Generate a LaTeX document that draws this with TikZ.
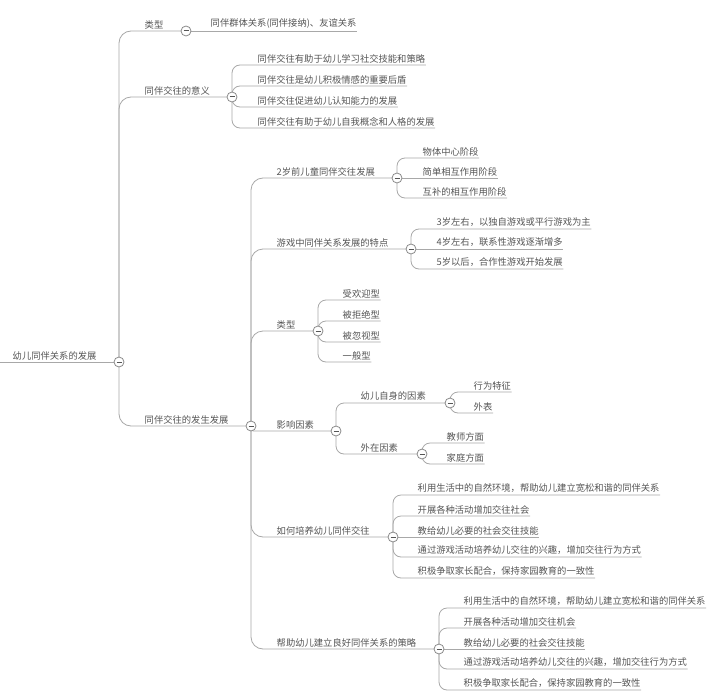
\documentclass[tikz,border=0pt]{standalone}
\usepackage{fontspec}
\newfontfamily\cjk{Noto Sans CJK SC}
\usetikzlibrary{backgrounds}
\definecolor{txtc}{HTML}{555555}
\definecolor{linec}{HTML}{A8A8A8}
\definecolor{togc}{HTML}{8A8A8A}
\tikzset{
  tx/.style={anchor=south west, inner xsep=0.5pt, inner ysep=2pt, text=txtc,
    font=\cjk\fontsize{9.3}{11}\selectfont},
  tog/.style={circle, draw=togc, fill=white, line width=0.8pt, minimum size=10pt, inner sep=0pt,
    path picture={\draw[txtc, line width=1pt] ([xshift=-2.5pt]path picture bounding box.center) -- ([xshift=2.5pt]path picture bounding box.center);}},
  edge/.style={draw=linec, line width=0.8pt, rounded corners=8pt},
  bigedge/.style={edge, rounded corners=12pt},
  tinyedge/.style={edge, rounded corners=2.5pt}
}
\begin{document}
\begin{tikzpicture}[x=1pt,y=-1pt]
\useasboundingbox (0,0) rectangle (722,698);
% root
\coordinate (rs) at (0,362);
\node[tx] (root) at (12,362) {幼儿同伴关系的发展};
\node[tog] (R) at (119,362) {};
% level 1
\node[tx] (A) at (144,31) {类型};
\node[tog] (cA) at (186,31) {};
\node[tx] (a1) at (210,31) {同伴群体关系(同伴接纳)、友谊关系};
\node[tx] (B) at (144,97) {同伴交往的意义};
\node[tog] (cB) at (232,97) {};
\node[tx] (b1) at (257,65) {同伴交往有助于幼儿学习社交技能和策略};
\node[tx] (b2) at (257,86) {同伴交往是幼儿积极情感的重要后盾};
\node[tx] (b3) at (257,107) {同伴交往促进幼儿认知能力的发展};
\node[tx] (b4) at (257,128) {同伴交往有助于幼儿自我概念和人格的发展};
\node[tx] (C) at (144,426) {同伴交往的发生发展};
\node[tog] (cC) at (251,426) {};
% level 2
\node[tx] (C1) at (276,178) {2岁前儿童同伴交往发展};
\node[tog] (cC1) at (397,178) {};
\node[tx] (c11) at (422,158) {物体中心阶段};
\node[tx] (c12) at (422,178) {简单相互作用阶段};
\node[tx] (c13) at (422,198) {互补的相互作用阶段};
\node[tx] (C2) at (276,249) {游戏中同伴关系发展的特点};
\node[tog] (cC2) at (411,249) {};
\node[tx] (c21) at (436,229) {3岁左右，以独自游戏或平行游戏为主};
\node[tx] (c22) at (436,249) {4岁左右，联系性游戏逐渐增多};
\node[tx] (c23) at (436,269) {5岁以后，合作性游戏开始发展};
\node[tx] (C3) at (276,331) {类型};
\node[tog] (cC3) at (318,331) {};
\node[tx] (c31) at (342,300) {受欢迎型};
\node[tx] (c32) at (342,321) {被拒绝型};
\node[tx] (c33) at (342,342) {被忽视型};
\node[tx] (c34) at (342,362) {一般型};
\node[tx] (C4) at (276,431) {影响因素};
\node[tog] (cC4) at (336,431) {};
\node[tx] (C41) at (360,403) {幼儿自身的因素};
\node[tog] (cC41) at (450,403) {};
\node[tx] (c411) at (473,392) {行为特征};
\node[tx] (c412) at (473,413) {外表};
\node[tx] (C42) at (360,454) {外在因素};
\node[tog] (cC42) at (422,454) {};
\node[tx] (c421) at (446,443) {教师方面};
\node[tx] (c422) at (446,464) {家庭方面};
\node[tx] (C5) at (276,537) {如何培养幼儿同伴交往};
\node[tog] (cC5) at (393,537) {};
\node[tx] (c51) at (417,495) {利用生活中的自然环境，帮助幼儿建立宽松和谐的同伴关系};
\node[tx] (c52) at (417,516) {开展各种活动增加交往社会};
\node[tx] (c53) at (417,537) {教给幼儿必要的社会交往技能};
\node[tx] (c54) at (417,557) {通过游戏活动培养幼儿交往的兴趣，增加交往行为方式};
\node[tx] (c55) at (417,578) {积极争取家长配合，保持家园教育的一致性};
\node[tx] (C6) at (276,649) {帮助幼儿建立良好同伴关系的策略};
\node[tog] (cC6) at (439,649) {};
\node[tx] (c61) at (463,608) {利用生活中的自然环境，帮助幼儿建立宽松和谐的同伴关系};
\node[tx] (c62) at (463,628) {开展各种活动增加交往机会};
\node[tx] (c63) at (463,649) {教给幼儿必要的社会交往技能};
\node[tx] (c64) at (463,669) {通过游戏活动培养幼儿交往的兴趣，增加交往行为方式};
\node[tx] (c65) at (463,690) {积极争取家长配合，保持家园教育的一致性};
\begin{scope}[on background layer]
\fill[white] (0,0) rectangle (722,698);
\draw[edge] (rs) -- (R.center);
\draw[bigedge] (R.center) |- (cA.center);
\draw[bigedge] (R.center) |- (cB.center);
\draw[bigedge] (R.center) |- (cC.center);
\draw[edge] (cA.center) -- (a1.south east);
\foreach \n in {b1,b2,b3,b4} \draw[edge] (cB.center) |- (\n.south east);
\foreach \n in {cC1,cC2,cC3,cC5,cC6} \draw[bigedge] (cC.center) |- (\n.center);
\draw[tinyedge] (cC.center) |- (cC4.center);
\draw[edge] (cC1.center) |- (c11.south east);
\draw[edge] (cC1.center) -- (c12.south east);
\draw[edge] (cC1.center) |- (c13.south east);
\draw[edge] (cC2.center) |- (c21.south east);
\draw[edge] (cC2.center) -- (c22.south east);
\draw[edge] (cC2.center) |- (c23.south east);
\foreach \n in {c31,c32,c33,c34} \draw[edge] (cC3.center) |- (\n.south east);
\draw[edge] (cC4.center) |- (cC41.center);
\draw[edge] (cC4.center) |- (cC42.center);
\foreach \n in {c411,c412} \draw[edge] (cC41.center) |- (\n.south east);
\foreach \n in {c421,c422} \draw[edge] (cC42.center) |- (\n.south east);
\foreach \n in {c51,c52,c54,c55} \draw[edge] (cC5.center) |- (\n.south east);
\draw[edge] (cC5.center) -- (c53.south east);
\foreach \n in {c61,c62,c64,c65} \draw[edge] (cC6.center) |- (\n.south east);
\draw[edge] (cC6.center) -- (c63.south east);
\end{scope}
\end{tikzpicture}
\end{document}
